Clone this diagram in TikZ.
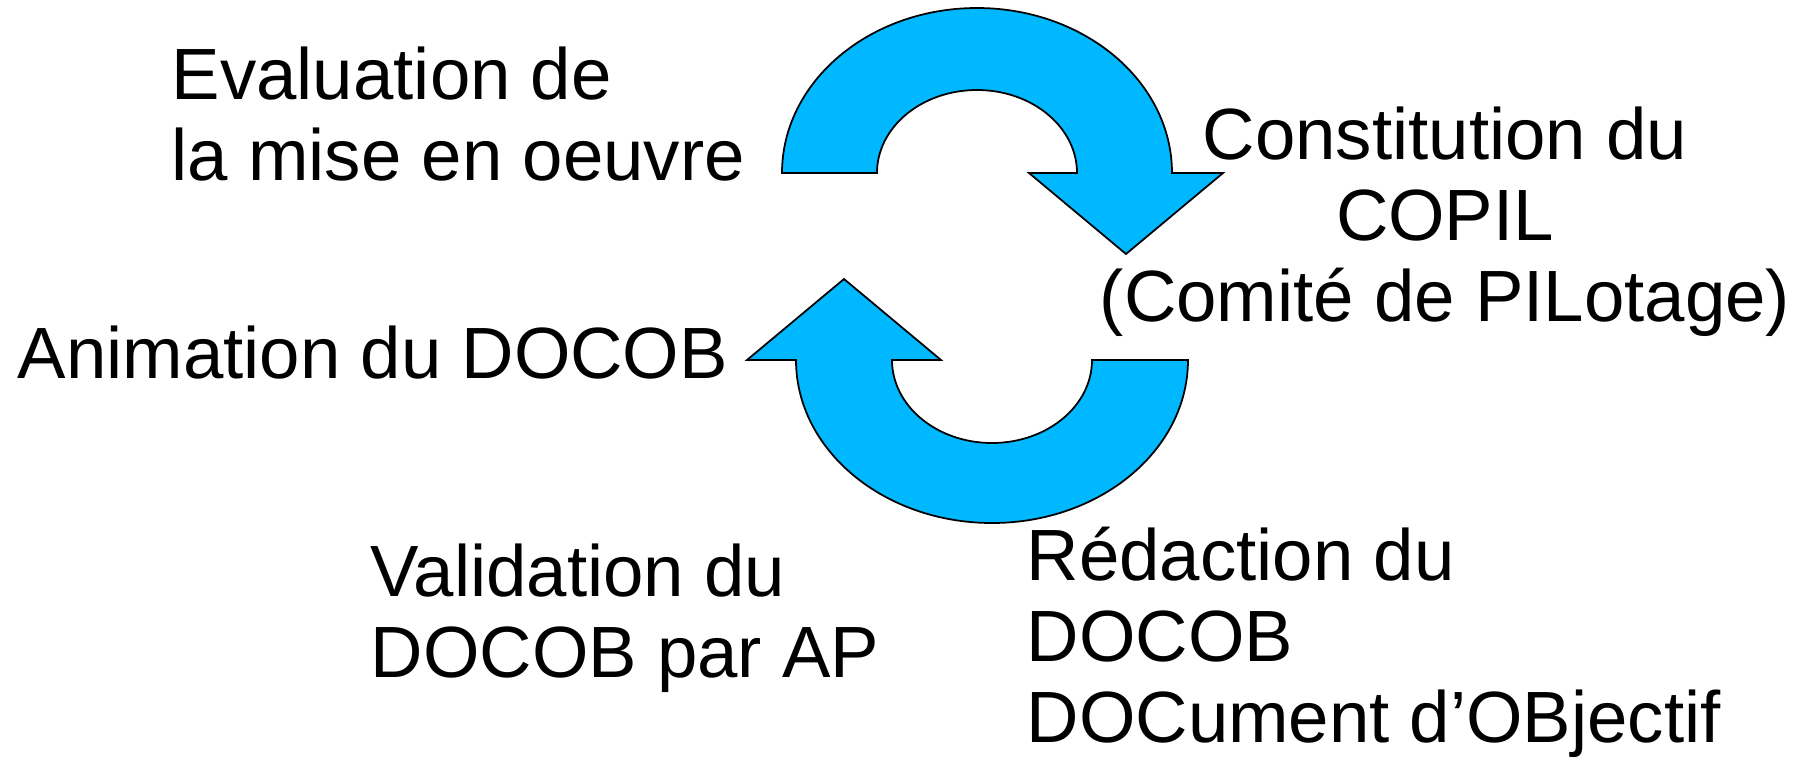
\documentclass[tikz,border=0pt]{standalone}
\usepackage{fontspec}
\setmainfont{Liberation Sans}
\definecolor{cycleblue}{RGB}{0,184,255}
\tikzset{
	lbl/.style={inner sep=0pt, font=\fontsize{20.65pt}{23pt}\selectfont},
	turn/.style={fill=cycleblue, draw=black, line width=0.5pt, line join=miter}
}
\begin{document}
\begin{tikzpicture}[x=0.01cm, y=-0.01cm]
	\useasboundingbox (0,0) rectangle (1805,757);

	\draw[turn] (782,173) arc[start angle=180, end angle=360, x radius=195, y radius=165]
		-- (1223,173) -- (1126,254) -- (1029,173) -- (1077,173)
		arc[start angle=0, end angle=-180, x radius=100, y radius=83] -- cycle;
	\draw[turn] (1188,360) arc[start angle=0, end angle=180, x radius=196, y radius=163]
		-- (747,360) -- (844,279) -- (941,360) -- (892,360)
		arc[start angle=180, end angle=0, x radius=100, y radius=83] -- cycle;

	% base = baseline of the last line
	\node[lbl, align=left, anchor=base west] (eval) at (171,180) {Evaluation de\\la mise en oeuvre};
	\node[lbl, anchor=base west] (anim) at (17,378) {Animation du DOCOB};
	\node[lbl, align=center, anchor=base] (copil) at (1445,321) {Constitution du\\COPIL\\(Comité de PILotage)};
	\node[lbl, align=left, anchor=base west] (valid) at (370,677) {Validation du\\DOCOB par AP};
	\node[lbl, align=left, anchor=base west] (redac) at (1026,742) {Rédaction du\\DOCOB\\DOCument d’OBjectif};
\end{tikzpicture}
\end{document}
